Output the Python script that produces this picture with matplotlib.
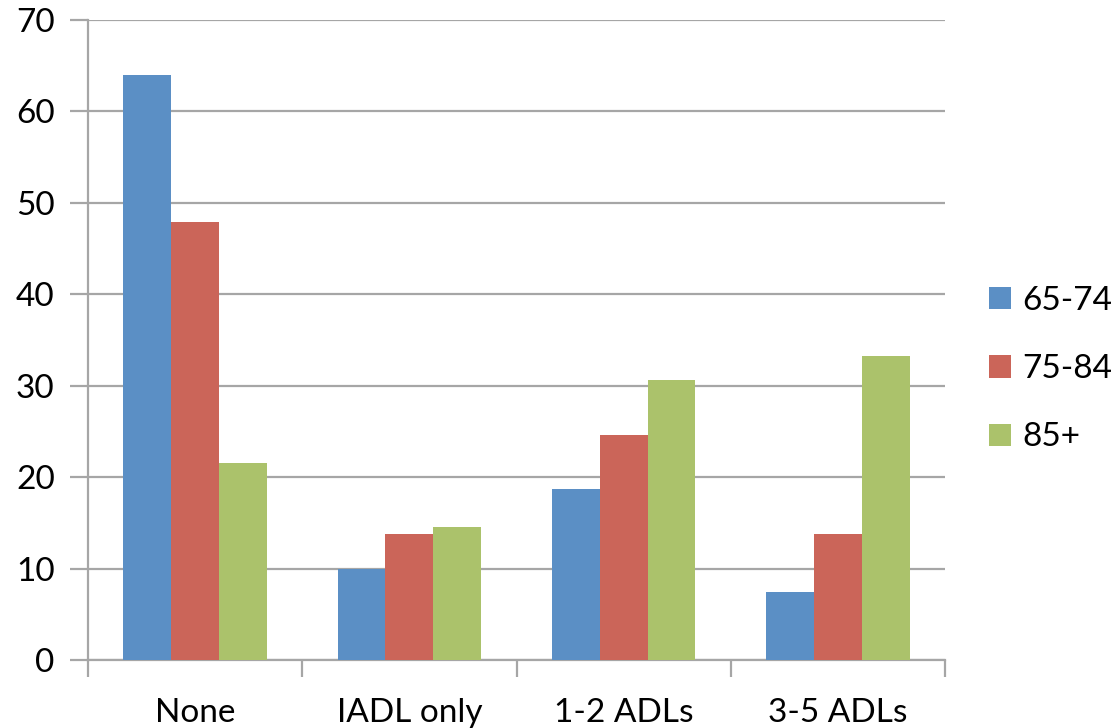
import numpy as np
import matplotlib
matplotlib.use("Agg")
import matplotlib.pyplot as plt
from matplotlib.patches import Patch

plt.rcParams['font.family'] = ['Lato', 'DejaVu Sans']

categories = ["None", "IADL only", "1-2 ADLs", "3-5 ADLs"]
age_groups = ["65-74", "75-84", "85+"]
vals_65_74 = [64.0, 9.9, 18.7, 7.4]
vals_75_84 = [47.9, 13.8, 24.6, 13.8]
vals_85_up = [21.5, 14.6, 30.6, 33.2]
colors = ["#5B8FC5", "#CB6559", "#ABC26B"]

fig = plt.figure(figsize=(11.13, 7.28), dpi=100)
ax = fig.add_axes([88/1113, 68/728, (945-88)/1113, 640/728])

x = np.arange(len(categories))
w = 0.223
for i, (vals, c) in enumerate(zip([vals_65_74, vals_75_84, vals_85_up], colors)):
    ax.bar(x + (i - 1) * w, vals, width=w, color=c, zorder=3)

ax.set_xlim(-0.5, len(categories) - 0.5)
ax.set_ylim(0, 70)
ax.set_yticks(np.arange(0, 71, 10))
ax.yaxis.grid(True, color="#a6a6a6", linewidth=1.6, zorder=0)

# category labels centred, tick marks on the group boundaries
ax.set_xticks(x)
ax.set_xticklabels(categories)
ax.set_xticks(np.arange(-0.5, len(categories)), minor=True)
ax.tick_params(axis="x", which="major", length=0, pad=27, labelsize=24)
ax.tick_params(axis="x", which="minor", length=12, width=1.6, color="#a6a6a6")
ax.tick_params(axis="y", length=13, width=1.6, color="#a6a6a6", pad=11, labelsize=24)

for s in ["top", "right"]:
    ax.spines[s].set_visible(False)
for s in ["left", "bottom"]:
    ax.spines[s].set_color("#a6a6a6")
    ax.spines[s].set_linewidth(1.6)

handles = [Patch(facecolor=c, label=l) for c, l in zip(colors, age_groups)]
fig.legend(handles=handles, loc="center left", bbox_to_anchor=(0.862, 0.493),
           frameon=False, fontsize=24, handlelength=0.65, handleheight=0.65,
           handletextpad=0.35, labelspacing=1.15)

fig.savefig("out.png", dpi=100)
